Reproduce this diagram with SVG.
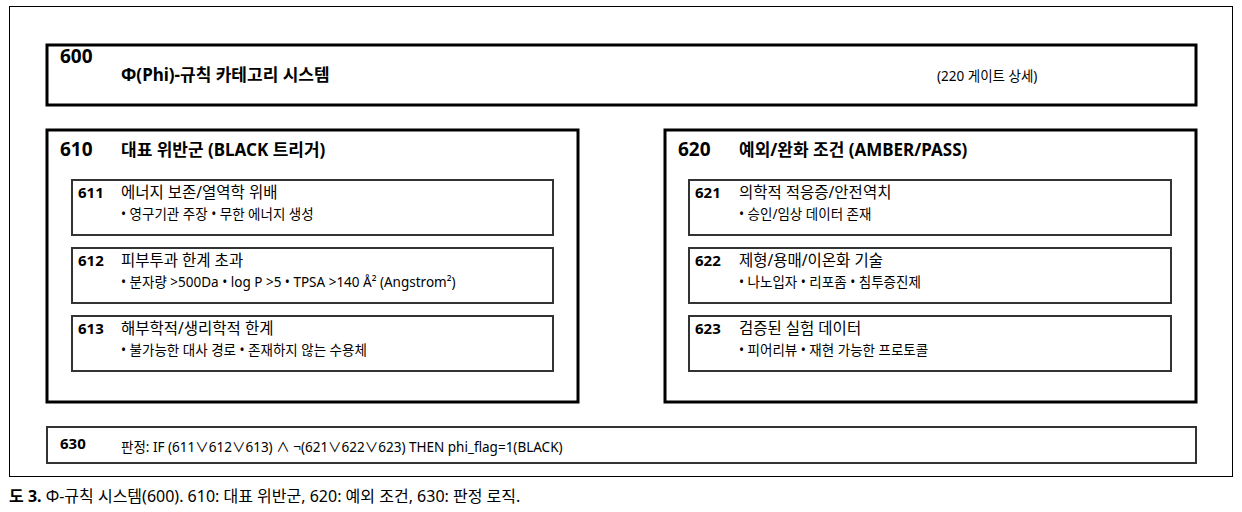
<svg xmlns="http://www.w3.org/2000/svg" width="1242" height="512" viewBox="0 0 1242 512">
<style>
text{font-family:"Noto Sans","Noto Sans CJK KR",sans-serif;fill:#000}
.big{fill:#fff;stroke:#000;stroke-width:3}
.sub{fill:#fff;stroke:#333;stroke-width:2}
.num{font-size:19px;font-weight:700}
.ttl{font-size:17px;font-weight:700}
.sn{font-size:15px;font-weight:700}
.st{font-size:15.5px}
.sb{font-size:13.5px}
</style>
<rect x="0" y="0" width="1242" height="512" fill="#fff"/>
<rect x="9.5" y="6.5" width="1223" height="470" fill="#fff" stroke="#000" stroke-width="1"/>
<g id="n600">
<rect class="big" x="47" y="45" width="1149" height="60"/>
<text class="num" x="60" y="63">600</text>
<text class="ttl" x="121" y="81">Φ(Phi)-규칙 카테고리 시스템</text>
<text class="sb" x="937" y="81">(220 게이트 상세)</text>
</g>
<g id="n610">
<rect class="big" x="47" y="130" width="531" height="272"/>
<text class="num" x="60" y="156">610</text>
<text class="ttl" x="121" y="156">대표 위반군 (BLACK 트리거)</text>
</g>
<g id="n611">
<rect class="sub" x="72" y="180" width="481" height="55"/>
<text class="sn" x="78" y="198">611</text>
<text class="st" x="121" y="198">에너지 보존/열역학 위배</text>
<text class="sb" x="121" y="219">• 영구기관 주장 • 무한 에너지 생성</text>
</g>
<g id="n612">
<rect class="sub" x="72" y="248" width="481" height="55"/>
<text class="sn" x="78" y="266">612</text>
<text class="st" x="121" y="266">피부투과 한계 초과</text>
<text class="sb" x="121" y="287">• 분자량 &gt;500Da • log P &gt;5 • TPSA &gt;140 Å² (Angstrom²)</text>
</g>
<g id="n613">
<rect class="sub" x="72" y="316" width="481" height="55"/>
<text class="sn" x="78" y="334">613</text>
<text class="st" x="121" y="334">해부학적/생리학적 한계</text>
<text class="sb" x="121" y="355">• 불가능한 대사 경로 • 존재하지 않는 수용체</text>
</g>
<g id="n620">
<rect class="big" x="665" y="130" width="531" height="272"/>
<text class="num" x="678" y="156">620</text>
<text class="ttl" x="739" y="156">예외/완화 조건 (AMBER/PASS)</text>
</g>
<g id="n621">
<rect class="sub" x="689" y="180" width="482" height="55"/>
<text class="sn" x="695" y="198">621</text>
<text class="st" x="739" y="198">의학적 적응증/안전역치</text>
<text class="sb" x="739" y="219">• 승인/임상 데이터 존재</text>
</g>
<g id="n622">
<rect class="sub" x="689" y="248" width="482" height="55"/>
<text class="sn" x="695" y="266">622</text>
<text class="st" x="739" y="266">제형/용매/이온화 기술</text>
<text class="sb" x="739" y="287">• 나노입자 • 리포좀 • 침투증진제</text>
</g>
<g id="n623">
<rect class="sub" x="689" y="316" width="482" height="55"/>
<text class="sn" x="695" y="334">623</text>
<text class="st" x="739" y="334">검증된 실험 데이터</text>
<text class="sb" x="739" y="355">• 피어리뷰 • 재현 가능한 프로토콜</text>
</g>
<g id="n630">
<rect class="sub" x="47" y="427" width="1149" height="36" stroke="#444"/>
<text class="sn" x="60" y="449">630</text>
<text class="sb" x="121" y="452">판정: IF (611∨612∨613) ∧ ¬(621∨622∨623) THEN phi_flag=1(BLACK)</text>
</g>
<g id="connectors"></g>
<text x="9" y="502" font-size="16"><tspan font-weight="700">도 3.</tspan> Φ-규칙 시스템(600). 610: 대표 위반군, 620: 예외 조건, 630: 판정 로직.</text>
</svg>
